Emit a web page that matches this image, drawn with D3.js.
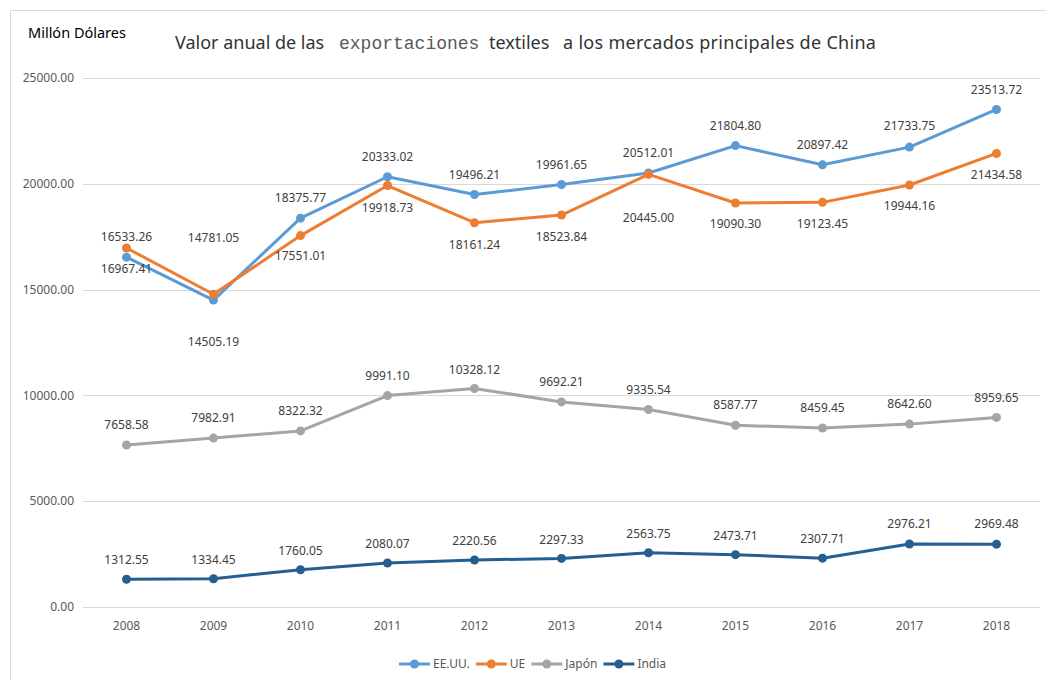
<!DOCTYPE html>
<html>
<head>
<meta charset="utf-8">
<title>Exportaciones textiles</title>
<script src="https://cdnjs.cloudflare.com/ajax/libs/d3/7.8.5/d3.min.js"></script>
<style>
	body { margin: 0; background: white; }
	svg text { font-family: "Noto Sans", sans-serif; }
	.grid line { stroke: #d9d9d9; stroke-width: 1px; }
	.tick_label { fill: #595959; font-size: 12px; }
	.data_label { fill: #404040; font-size: 12px; }
	.legend_label { fill: #595959; font-size: 12px; }
</style>
</head>
<body>
<svg id="chart" width="1046" height="680"></svg>
<script>
	// data
	var years = [2008, 2009, 2010, 2011, 2012, 2013, 2014, 2015, 2016, 2017, 2018];
	var eeuu  = [16533.26, 14505.19, 18375.77, 20333.02, 19496.21, 19961.65, 20512.01, 21804.80, 20897.42, 21733.75, 23513.72];
	var ue    = [16967.41, 14781.05, 17551.01, 19918.73, 18161.24, 18523.84, 20445.00, 19090.30, 19123.45, 19944.16, 21434.58];
	var japon = [7658.58, 7982.91, 8322.32, 9991.10, 10328.12, 9692.21, 9335.54, 8587.77, 8459.45, 8642.60, 8959.65];
	var india = [1312.55, 1334.45, 1760.05, 2080.07, 2220.56, 2297.33, 2563.75, 2473.71, 2307.71, 2976.21, 2969.48];
	var yTicks = [0, 5000, 10000, 15000, 20000, 25000];
	var seriesNames = ["EE.UU.", "UE", "Japón", "India"];

	// label placement (px from point, + = below)
	var eeuuLabelDy  = [-20, 42, -20, -20, -20, -20, -20, -20, -20, -21, -20];
	var ueLabelDy    = [21, -56, 20, 22, 22, 22, 43, 21, 21, 21, 21];
	var japonLabelDy = [-20, -20, -20, -20, -19, -20, -20, -20, -20, -20, -20];
	var indiaLabelDy = [-19, -19, -19, -19, -19, -19, -19, -19, -19, -20, -20];

	var colors = ["#5b9bd5", "#ed7d31", "#a5a5a5", "#255e91"];

	var series = [
		{ name: seriesNames[0], values: eeuu,  dy: eeuuLabelDy,  color: colors[0] },
		{ name: seriesNames[1], values: ue,    dy: ueLabelDy,    color: colors[1] },
		{ name: seriesNames[2], values: japon, dy: japonLabelDy, color: colors[2] },
		{ name: seriesNames[3], values: india, dy: indiaLabelDy, color: colors[3] }
	];

	var svg = d3.select("svg#chart");

	// chart frame
	svg.append("rect")
		.attr("x", 10.5).attr("y", 10.5)
		.attr("width", 1100).attr("height", 1000)
		.attr("fill", "none")
		.attr("stroke", "#d9d9d9");

	var x = d3.scaleBand().domain(years).range([83, 1040]);
	var y = d3.scaleLinear().domain([0, 25000]).range([607, 78]);
	var cx = d => x(d) + x.bandwidth() / 2;

	// gridlines and y labels
	svg.append("g").classed("grid", true)
		.selectAll("line")
		.data(yTicks).enter().append("line")
			.attr("x1", 83).attr("x2", 1040)
			.attr("y1", d => Math.round(y(d)) + 0.5)
			.attr("y2", d => Math.round(y(d)) + 0.5);

	svg.selectAll("text.ytick")
		.data(yTicks).enter().append("text")
			.classed("tick_label", true)
			.attr("x", 74)
			.attr("y", d => y(d))
			.attr("dy", "0.35em")
			.attr("text-anchor", "end")
			.text(d => d.toFixed(2));

	svg.selectAll("text.xtick")
		.data(years).enter().append("text")
			.classed("tick_label", true)
			.attr("x", d => cx(d))
			.attr("y", 630)
			.attr("text-anchor", "middle")
			.text(d => d);

	// lines
	var line = d3.line()
		.x((d, i) => cx(years[i]))
		.y(d => y(d));

	var sg = svg.selectAll("g.series")
		.data(series).enter().append("g")
			.classed("series", true);

	sg.append("path")
		.attr("d", d => line(d.values))
		.attr("fill", "none")
		.attr("stroke", d => d.color)
		.attr("stroke-width", 3)
		.attr("stroke-linejoin", "round");

	sg.each(function(s) {
		d3.select(this).selectAll("circle")
			.data(s.values).enter().append("circle")
				.attr("cx", (d, i) => cx(years[i]))
				.attr("cy", d => y(d))
				.attr("r", 4.5)
				.attr("fill", s.color);
	});

	// data labels
	series.forEach(function(s) {
		svg.append("g").selectAll("text")
			.data(s.values).enter().append("text")
				.classed("data_label", true)
				.attr("x", (d, i) => cx(years[i]))
				.attr("y", (d, i) => y(d) + s.dy[i])
				.attr("dy", "0.35em")
				.attr("text-anchor", "middle")
				.text(d => d.toFixed(2));
	});

	// titles
	svg.append("text")
		.attr("x", 28).attr("y", 38)
		.attr("fill", "#000")
		.style("font-size", "14.5px")
		.text("Millón Dólares");

	var title = svg.append("g").attr("fill", "#333333").style("font-size", "18px");
	title.append("text").attr("x", 175).attr("y", 49).text("Valor anual de las");
	title.append("text").attr("x", 339).attr("y", 49)
		.style("font-family", "'Liberation Mono', monospace")
		.attr("fill", "#595959")
		.text("exportaciones");
	title.append("text").attr("x", 489).attr("y", 49).text("textiles");
	title.append("text").attr("x", 563).attr("y", 49)
		.style("letter-spacing", "0.3px")
		.text("a los mercados principales de China");

	// legend
	var lx = 399, ly = 664;
	series.forEach(function(s) {
		var g = svg.append("g");
		g.append("line")
			.attr("x1", lx).attr("x2", lx + 31)
			.attr("y1", ly).attr("y2", ly)
			.attr("stroke", s.color).attr("stroke-width", 3);
		g.append("circle")
			.attr("cx", lx + 15.5).attr("cy", ly).attr("r", 4.5)
			.attr("fill", s.color);
		var t = g.append("text")
			.classed("legend_label", true)
			.attr("x", lx + 34).attr("y", ly)
			.attr("dy", "0.35em")
			.text(s.name);
		lx = lx + 34 + t.node().getComputedTextLength() + 6;
	});
</script>
</body>
</html>
